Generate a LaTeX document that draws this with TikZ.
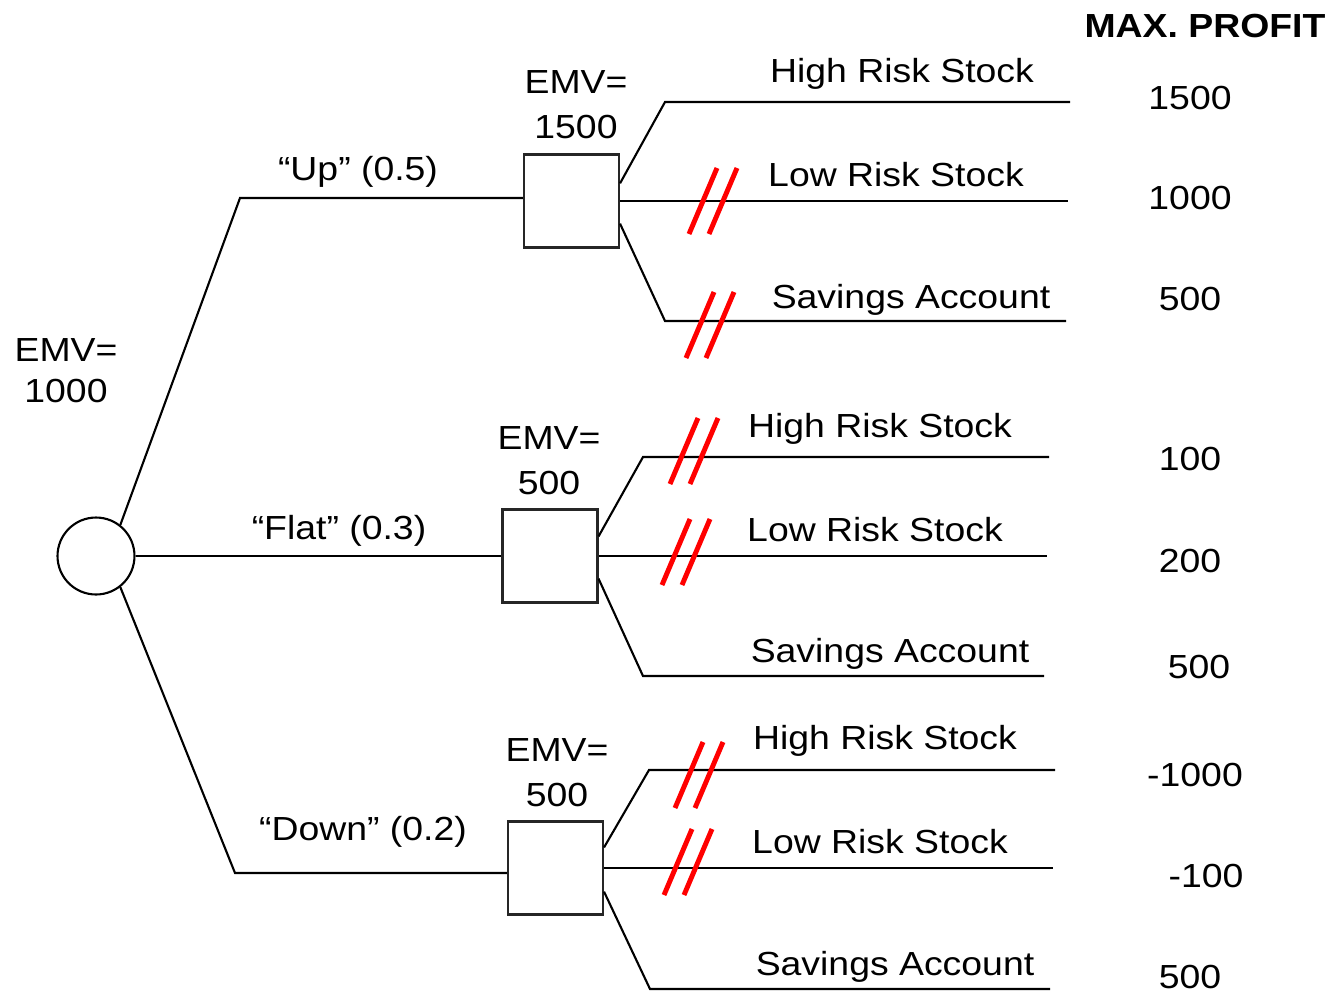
\documentclass[tikz,border=0pt]{standalone}
\usepackage{fontspec}
\setmainfont{Liberation Sans}[FakeStretch=1.12]
\usetikzlibrary{positioning}
\tikzset{
  dtChance/.style={draw, circle, line width=1.2pt, minimum size=1.54cm, inner sep=0pt},
  dtDecision/.style={draw=black!85, line width=1.2pt, minimum width=1.9cm, minimum height=1.86cm, inner sep=0pt},
  %% branches
  dtline/.style={line width=1.2pt},
  %% texts
  dtlabel/.style={font=\fontsize{19}{25.6}\selectfont, anchor=base, inner sep=0pt, align=center},
  dtrootlabel/.style={dtlabel, font=\fontsize{19}{22.8}\selectfont},
  dthead/.style={dtlabel, font=\fontsize{19}{22.8}\selectfont\bfseries},
  %% red cut marks on pruned branches
  dtcut/.pic={\draw[red, line width=2.8pt] (-24,33) -- (4,-33) (-4,33) -- (24,-33);},
}

\begin{document}
\begin{tikzpicture}[x=0.02cm, y=-0.02cm]
\useasboundingbox (0,0) rectangle (1329,995);

%% Nodes
\node[dtChance]   (root)  at (96,556)      {};
\node[dtDecision] (dUp)   at (571.5,201)   {};
\node[dtDecision] (dFlat) at (550,556)     {};
\node[dtDecision] (dDown) at (555.5,868)   {};

%% Bend points and branch ends
\coordinate (upBend)   at (240,198);
\coordinate (downBend) at (235,873);
\coordinate (uHighBend) at (665,102);  \coordinate (uHighEnd) at (1070,102);
\coordinate (uLowEnd)   at (1068,201);
\coordinate (uSavBend)  at (665,321);  \coordinate (uSavEnd)  at (1066,321);
\coordinate (fHighBend) at (643,457);  \coordinate (fHighEnd) at (1049,457);
\coordinate (fLowEnd)   at (1047,556);
\coordinate (fSavBend)  at (643,676);  \coordinate (fSavEnd)  at (1044,676);
\coordinate (dHighBend) at (649,770);  \coordinate (dHighEnd) at (1055,770);
\coordinate (dLowEnd)   at (1053,868);
\coordinate (dSavBend)  at (650,989);  \coordinate (dSavEnd)  at (1050,989);

%% Chance branches
\draw[dtline] (root.52) -- (upBend) -- (dUp.west |- upBend);
\draw[dtline] (root.east) -- (dFlat.west |- root.east);
\draw[dtline] (root.-52) -- (downBend) -- (dDown.west |- downBend);

%% Decision branches
\draw[dtline] (dUp.20) -- (uHighBend) -- (uHighEnd);
\draw[dtline] (dUp.east) -- (uLowEnd);
\draw[dtline] (dUp.-25) -- (uSavBend) -- (uSavEnd);
\draw[dtline] (dFlat.22) -- (fHighBend) -- (fHighEnd);
\draw[dtline] (dFlat.east) -- (fLowEnd);
\draw[dtline] (dFlat.-25) -- (fSavBend) -- (fSavEnd);
\draw[dtline] (dDown.23) -- (dHighBend) -- (dHighEnd);
\draw[dtline] (dDown.east) -- (dLowEnd);
\draw[dtline] (dDown.-26) -- (dSavBend) -- (dSavEnd);

%% Cut marks
\pic at (713,201) {dtcut};
\pic at (710,325) {dtcut};
\pic at (694,451) {dtcut};
\pic at (686,552) {dtcut};
\pic at (699,775) {dtcut};
\pic at (688,862) {dtcut};

%% EMV labels (base = last line)
\node[dtrootlabel] (emvRoot) at (66,402)  {EMV=\\1000};
\node[dtlabel]     (emvUp)   at (576,138) {EMV=\\1500};
\node[dtlabel]     (emvFlat) at (549,494) {EMV=\\500};
\node[dtlabel]     (emvDown) at (557,806) {EMV=\\500};

%% Outcome labels
\node[dtlabel] (lbUp)   at (358,180) {“Up” (0.5)};
\node[dtlabel] (lbFlat) at (339,539) {“Flat” (0.3)};
\node[dtlabel] (lbDown) at (363,840) {“Down” (0.2)};

%% Alternatives
\node[dtlabel] (uHigh) at (902,82)  {High Risk Stock};
\node[dtlabel] (uLow)  at (896,186) {Low Risk Stock};
\node[dtlabel] (uSav)  at (911,308) {Savings Account};
\node[dtlabel] (fHigh) at (880,437) {High Risk Stock};
\node[dtlabel] (fLow)  at (875,541) {Low Risk Stock};
\node[dtlabel] (fSav)  at (890,662) {Savings Account};
\node[dtlabel] (dHigh) at (885,749) {High Risk Stock};
\node[dtlabel] (dLow)  at (880,853) {Low Risk Stock};
\node[dtlabel] (dSav)  at (895,975) {Savings Account};

%% Max. profit column
\node[dthead]  (hdProfit) at (1205,37) {MAX. PROFIT};
\node[dtlabel] (pUH) at (1190,109) {1500};
\node[dtlabel] (pUL) at (1190,209) {1000};
\node[dtlabel] (pUS) at (1190,310) {500};
\node[dtlabel] (pFH) at (1190,470) {100};
\node[dtlabel] (pFL) at (1190,572) {200};
\node[dtlabel] (pFS) at (1199,678) {500};
\node[dtlabel] (pDH) at (1195,786) {-1000};
\node[dtlabel] (pDL) at (1206,887) {-100};
\node[dtlabel] (pDS) at (1190,988) {500};

\end{tikzpicture}
\end{document}
